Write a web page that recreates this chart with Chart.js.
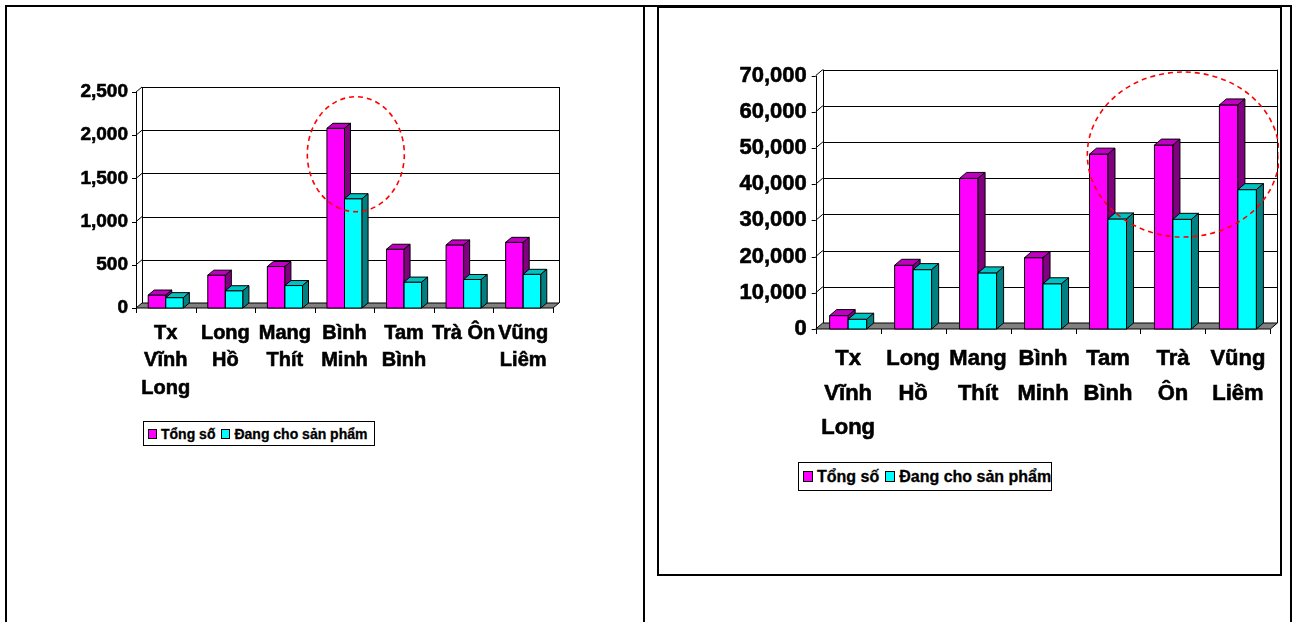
<!DOCTYPE html>
<html><head><meta charset="utf-8">
<script src="https://cdn.jsdelivr.net/npm/chart.js@4"></script>
<style>
html,body{margin:0;padding:0;background:#fff;width:1296px;height:622px;overflow:hidden;position:relative;font-family:"Liberation Sans",Arial,sans-serif;}
.ln{position:absolute;background:#000;}
canvas{position:absolute;}
.box{position:absolute;border:2px solid #000;box-sizing:border-box;}
.legend{position:absolute;border:1px solid #000;box-sizing:border-box;display:flex;align-items:center;font-weight:bold;white-space:nowrap;color:#000;background:#fff;-webkit-text-stroke:0.3px #000;}
.legend .sw{display:inline-block;border:1px solid #000;box-sizing:border-box;flex:none;}
</style></head><body>
<div class="ln" style="left:5px;top:5px;width:1287px;height:2px"></div>
<div class="ln" style="left:5px;top:5px;width:2px;height:617px"></div>
<div class="ln" style="left:643px;top:5px;width:2px;height:617px"></div>
<div class="ln" style="left:1290px;top:5px;width:2px;height:617px"></div>
<div class="box" style="left:657px;top:6px;width:625px;height:570px"></div>
<canvas id="c1"></canvas>
<canvas id="c2"></canvas>
<div id="lg1" class="legend"></div>
<div id="lg2" class="legend"></div>
<script>
// ---- data ----
const categoriesLeft = [["Tx","Vĩnh","Long"],["Long","Hồ"],["Mang","Thít"],["Bình","Minh"],["Tam","Bình"],["Trà Ôn"],["Vũng","Liêm"]];
const categoriesRight = [["Tx","Vĩnh","Long"],["Long","Hồ"],["Mang","Thít"],["Bình","Minh"],["Tam","Bình"],["Trà","Ôn"],["Vũng","Liêm"]];
const seriesNames = ["Tổng số","Đang cho sản phẩm"];
const leftTotal = [150,380,480,2080,680,730,760];
const leftProducing = [120,200,260,1265,300,330,390];
const rightTotal = [3700,17600,41600,19700,48300,50800,61900];
const rightProducing = [2700,16400,15500,12500,30400,30300,38500];
const leftTickMax = 2500, leftTickStep = 500;
const rightTickMax = 70000, rightTickStep = 10000;

const FRONT = ['#FF00FF','#00FFFF'];
const TOP = ['#C000C0','#00C0C0'];
const SIDE = ['#800080','#008080'];

const px = v => Math.round(v) + 0.5;

const threeD = {
  id: 'threeD',
  beforeDatasetsDraw(chart, args, o) {
    const {ctx, chartArea: a, scales: {x, y}} = chart;
    const dx = o.dx, dy = o.dy;
    const y0 = y.getPixelForValue(0);
    ctx.save();
    ctx.lineWidth = 1; ctx.strokeStyle = '#000';
    const line = (x1, y1, x2, y2) => { ctx.beginPath(); ctx.moveTo(x1, y1); ctx.lineTo(x2, y2); ctx.stroke(); };
    // floor
    ctx.fillStyle = '#808080';
    ctx.beginPath();
    ctx.moveTo(a.left, y0); ctx.lineTo(a.right, y0); ctx.lineTo(a.right + dx, y0 + dy); ctx.lineTo(a.left + dx, y0 + dy);
    ctx.closePath(); ctx.fill(); ctx.stroke();
    // back wall gridlines + side wall diagonals + y ticks
    y.ticks.forEach(t => {
      const py = y.getPixelForValue(t.value);
      line(a.left - 4, px(py), a.left, px(py));
      if (t.value !== 0) {
        line(a.left, py, a.left + dx, py + dy);
        line(a.left + dx, px(py + dy), a.right + dx, px(py + dy));
      }
    });
    // verticals
    line(px(a.left), a.top, px(a.left), y0);
    line(px(a.left + dx), a.top + dy, px(a.left + dx), y0 + dy);
    line(px(a.right + dx), a.top + dy, px(a.right + dx), y0 + dy);
    // x ticks at category boundaries
    for (let i = 0; i <= x.ticks.length; i++) {
      const xp = x.getPixelForValue(i - 0.5);
      line(px(xp), y0, px(xp), y0 + 5);
    }
    // bars
    const metas = chart.getSortedVisibleDatasetMetas();
    const n = metas[0].data.length;
    for (let i = 0; i < n; i++) {
      metas.forEach((m, d) => {
        const el = m.data[i];
        const p = el.getProps(['x', 'y', 'base', 'width'], true);
        const l = p.x - p.width / 2, r = p.x + p.width / 2, t = p.y, b = p.base;
        ctx.fillStyle = FRONT[d];
        ctx.beginPath(); ctx.rect(l, t, r - l, b - t); ctx.fill(); ctx.stroke();
        ctx.fillStyle = TOP[d];
        ctx.beginPath(); ctx.moveTo(l, t); ctx.lineTo(r, t); ctx.lineTo(r + dx, t + dy); ctx.lineTo(l + dx, t + dy); ctx.closePath(); ctx.fill(); ctx.stroke();
        ctx.fillStyle = SIDE[d];
        ctx.beginPath(); ctx.moveTo(r, t); ctx.lineTo(r + dx, t + dy); ctx.lineTo(r + dx, b + dy); ctx.lineTo(r, b); ctx.closePath(); ctx.fill(); ctx.stroke();
      });
    }
    ctx.restore();
    return false;
  },
  afterDraw(chart, args, o) {
    if (!o.ellipse) return;
    const {ctx, scales: {x, y}} = chart;
    const e = o.ellipse;
    const cx = x.getPixelForValue(e.cat), cy = y.getPixelForValue(e.value);
    ctx.save();
    ctx.strokeStyle = '#FF0000'; ctx.lineWidth = 1.6; ctx.setLineDash([5, 4]);
    ctx.beginPath(); ctx.ellipse(cx, cy, e.rx, e.ry, 0, 0, Math.PI * 2); ctx.stroke();
    ctx.restore();
  }
};

function makeChart(id, cfg) {
  const cv = document.getElementById(id);
  const R = cfg.rect, A = cfg.area;
  cv.width = R.w; cv.height = R.h;
  cv.style.left = R.x + 'px'; cv.style.top = R.y + 'px';
  cv.style.width = R.w + 'px'; cv.style.height = R.h + 'px';
  const yW = A.left - R.x;
  const pad = {left: 0, top: A.top - R.y, right: R.x + R.w - A.right, bottom: R.y + R.h - A.bottom - cfg.xH};
  return new Chart(cv, {
    type: 'bar',
    data: {
      labels: cfg.labels,
      datasets: cfg.series.map((s, i) => ({label: seriesNames[i], data: s, backgroundColor: FRONT[i], borderColor: '#000', borderWidth: 1}))
    },
    options: {
      responsive: false, animation: false, devicePixelRatio: 1, events: [],
      layout: {padding: pad},
      datasets: {bar: {categoryPercentage: cfg.catPct, barPercentage: 1}},
      plugins: {legend: {display: false}, tooltip: {enabled: false}, threeD: {dx: cfg.dx, dy: cfg.dy, ellipse: cfg.ellipse}},
      scales: {
        x: {
          grid: {display: false, drawTicks: false}, border: {display: false},
          ticks: {autoSkip: false, maxRotation: 0, minRotation: 0, color: '#000', padding: cfg.xPad,
            textStrokeColor: '#000', textStrokeWidth: 0.6,
            font: {family: '"Liberation Sans", Arial, sans-serif', weight: 'bold', size: cfg.xFont, lineHeight: cfg.xLH}},
          afterFit: s => { s.height = cfg.xH; }
        },
        y: {
          min: 0, max: cfg.yMax,
          grid: {display: false, drawTicks: false}, border: {display: false},
          ticks: {stepSize: cfg.yStep, color: '#000', padding: cfg.yPad,
            textStrokeColor: '#000', textStrokeWidth: 0.6,
            font: {family: '"Liberation Sans", Arial, sans-serif', weight: 'bold', size: cfg.yFont},
            callback: v => Number(v).toLocaleString('en-US')},
          afterFit: s => { s.width = yW; }
        }
      }
    },
    plugins: [threeD]
  });
}

makeChart('c1', {
  rect: {x: 8, y: 10, w: 634, h: 450},
  area: {left: 136, right: 553, top: 92, bottom: 308},
  xH: 110, labels: categoriesLeft, series: [leftTotal, leftProducing],
  yMax: leftTickMax, yStep: leftTickStep, catPct: 0.59,
  dx: 6, dy: -5, xFont: 20, xLH: 1.37, xPad: 11.5, yFont: 19, yPad: 8,
  ellipse: {cat: 3.19, value: 1780, rx: 48.5, ry: 57.5}
});
makeChart('c2', {
  rect: {x: 660, y: 9, w: 619, h: 450},
  area: {left: 815.7, right: 1270.5, top: 75.6, bottom: 329},
  xH: 120, labels: categoriesRight, series: [rightTotal, rightProducing],
  yMax: rightTickMax, yStep: rightTickStep, catPct: 0.57,
  dx: 7, dy: -6, xFont: 22, xLH: 1.57, xPad: 13, yFont: 22, yPad: 9,
  ellipse: {cat: 5.16, value: 48200, rx: 96, ry: 82.5}
});

function legend(id, r, fs, sw) {
  const el = document.getElementById(id);
  Object.assign(el.style, {left: r.x + 'px', top: r.y + 'px', width: r.w + 'px', height: r.h + 'px', fontSize: fs + 'px', paddingLeft: '4px'});
  seriesNames.forEach((n, i) => {
    const s = document.createElement('span');
    s.className = 'sw';
    Object.assign(s.style, {width: sw + 'px', height: (sw + 1) + 'px', background: FRONT[i], marginRight: '4px', marginLeft: i ? '6px' : '0'});
    el.appendChild(s);
    const t = document.createElement('span');
    t.textContent = n;
    el.appendChild(t);
  });
}
legend('lg1', {x: 143, y: 421, w: 232, h: 25}, 14, 9);
legend('lg2', {x: 798, y: 462, w: 254, h: 29}, 16, 10);
</script>
</body></html>
